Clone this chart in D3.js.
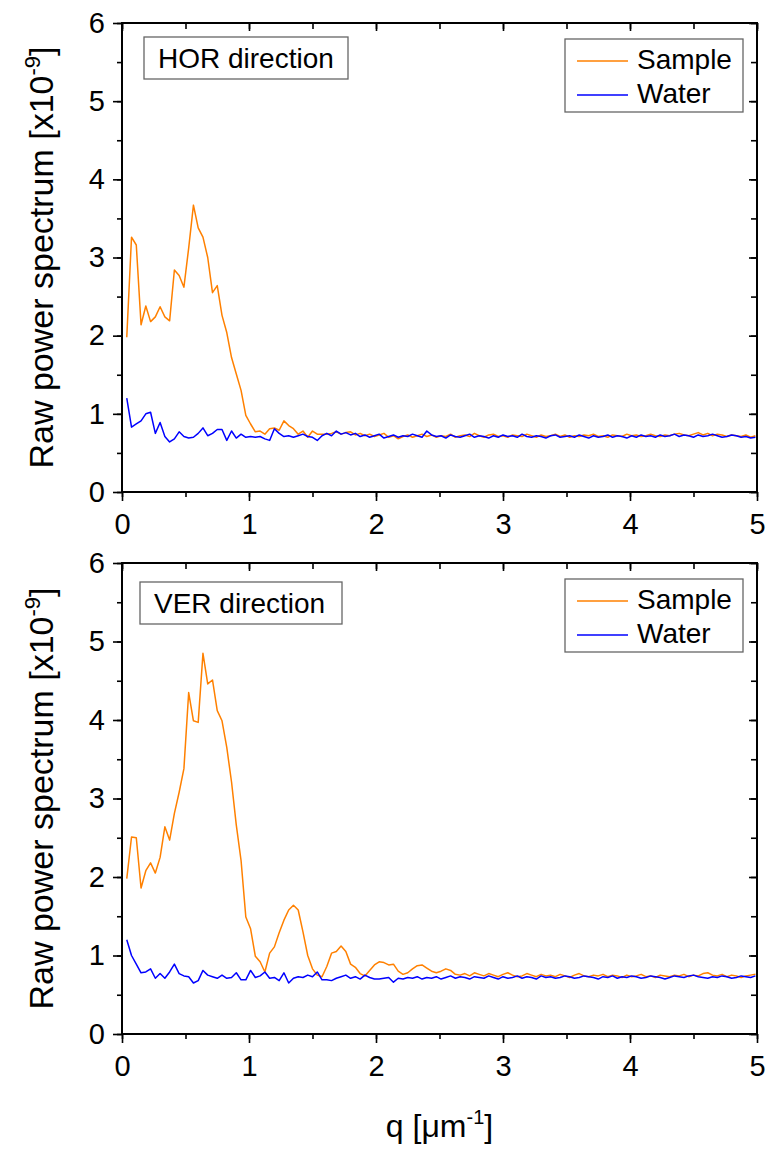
<html>
<head>
<meta charset="utf-8">
<script src="https://d3js.org/d3.v7.min.js"></script>
<style>
  body { margin: 0; background: #fff; }
  text { font-family: "Liberation Sans", Arial, sans-serif; fill: #000; }
</style>
</head>
<body>
<svg class="chart" width="780" height="1150"></svg>
<script>

// sampling of the spectra (q in 1/um)
var qStep = 0.0375;
var q = d3.range(1, 134).map(function(i) { return +(i * qStep).toFixed(4); });

var seriesNames = ["Sample", "Water"];
var xTicks = [0, 1, 2, 3, 4, 5];
var yTicks = [0, 1, 2, 3, 4, 5, 6];

// HOR direction, raw power spectrum [x10^-9]
var horSample = [
  1.98,3.26,3.16,2.14,2.38,2.18,2.24,2.37,2.24,2.19,
  2.84,2.77,2.62,3.12,3.67,3.38,3.26,3.00,2.55,2.64,
  2.26,2.04,1.72,1.51,1.30,0.98,0.87,0.77,0.78,0.74,
  0.81,0.82,0.79,0.91,0.85,0.81,0.74,0.78,0.70,0.78,
  0.74,0.74,0.74,0.75,0.77,0.74,
  0.76,0.77,0.73,0.75,0.72,0.74,0.71,0.73,0.75,0.70,
  0.72,0.68,0.71,0.73,0.70,0.72,0.74,0.71,0.73,0.70,
  0.72,0.71,0.74,0.70,0.72,0.73,0.71,0.75,0.72,0.70,
  0.73,0.74,0.71,0.72,0.70,0.73,0.72,0.71,0.74,0.72,
  0.70,0.73,0.71,0.72,0.74,0.71,0.73,0.70,0.72,0.71,
  0.73,0.72,0.74,0.71,0.72,0.70,0.73,0.72,0.71,0.74,
  0.72,0.73,0.71,0.72,0.74,0.72,0.71,0.73,0.72,0.74,
  0.75,0.73,0.72,0.74,0.76,0.73,0.75,0.72,0.74,0.73,
  0.71,0.73,0.72,0.71,0.73,0.70,0.72
];
var horWater = [
  1.20,0.83,0.87,0.91,1.00,1.02,0.75,0.89,0.71,0.64,
  0.68,0.77,0.71,0.69,0.70,0.75,0.82,0.72,0.75,0.80,
  0.80,0.66,0.78,0.69,0.74,0.70,0.71,0.70,0.71,0.68,
  0.66,0.81,0.75,0.71,0.72,0.70,0.72,0.74,0.71,0.70,
  0.66,0.72,0.75,0.72,0.78,0.74,
  0.76,0.73,0.75,0.71,0.73,0.70,0.72,0.74,0.69,0.71,
  0.73,0.70,0.72,0.71,0.74,0.72,0.70,0.78,0.73,0.71,
  0.72,0.69,0.73,0.71,0.70,0.72,0.74,0.70,0.72,0.71,
  0.69,0.72,0.70,0.73,0.71,0.72,0.70,0.74,0.71,0.70,
  0.72,0.71,0.69,0.72,0.73,0.70,0.71,0.72,0.70,0.73,
  0.71,0.69,0.72,0.70,0.71,0.73,0.70,0.72,0.71,0.69,
  0.72,0.70,0.73,0.71,0.72,0.70,0.73,0.71,0.72,0.74,
  0.71,0.73,0.72,0.70,0.73,0.71,0.72,0.74,0.72,0.70,
  0.71,0.73,0.72,0.70,0.71,0.69,0.70
];

// VER direction
var verSample = [
  1.98,2.51,2.50,1.86,2.08,2.18,2.05,2.25,2.64,2.47,
  2.81,3.08,3.38,4.35,3.99,3.97,4.85,4.46,4.51,4.12,
  3.99,3.65,3.21,2.66,2.21,1.49,1.34,0.99,0.92,0.79,
  1.03,1.11,1.29,1.45,1.58,1.64,1.58,1.30,1.00,0.83,
  0.75,0.73,0.86,1.03,1.05,1.12,1.05,0.89,0.85,0.77,
  0.74,0.81,0.88,0.92,
  0.91,0.88,0.89,0.80,0.76,0.78,0.83,0.87,0.88,0.84,
  0.80,0.78,0.80,0.83,0.81,0.76,0.75,0.77,0.74,0.78,
  0.76,0.74,0.77,0.75,0.73,0.76,0.78,0.75,0.73,0.74,
  0.77,0.75,0.73,0.76,0.74,0.75,0.73,0.76,0.74,0.72,
  0.75,0.77,0.74,0.73,0.75,0.74,0.76,0.73,0.75,0.74,
  0.72,0.75,0.73,0.74,0.76,0.73,0.74,0.72,0.75,0.74,
  0.73,0.75,0.74,0.76,0.73,0.75,0.74,0.77,0.78,0.75,
  0.74,0.76,0.73,0.75,0.74,0.72,0.74,0.75,0.76
];
var verWater = [
  1.20,1.00,0.89,0.78,0.79,0.83,0.71,0.77,0.71,0.79,
  0.89,0.77,0.74,0.73,0.65,0.68,0.81,0.75,0.73,0.71,
  0.75,0.71,0.72,0.78,0.69,0.69,0.81,0.72,0.74,0.79,
  0.71,0.72,0.68,0.78,0.65,0.71,0.73,0.72,0.75,0.73,
  0.79,0.69,0.69,0.68,0.71,0.73,0.75,0.71,0.73,0.70,
  0.75,0.72,0.70,0.70,
  0.71,0.72,0.66,0.71,0.70,0.72,0.71,0.73,0.70,0.72,
  0.71,0.73,0.70,0.72,0.74,0.71,0.73,0.72,0.70,0.73,
  0.72,0.71,0.74,0.72,0.70,0.73,0.71,0.72,0.74,0.71,
  0.73,0.72,0.70,0.74,0.72,0.73,0.71,0.72,0.74,0.73,
  0.71,0.72,0.74,0.73,0.72,0.70,0.73,0.72,0.74,0.71,
  0.73,0.72,0.74,0.73,0.71,0.72,0.74,0.73,0.72,0.70,
  0.72,0.74,0.73,0.72,0.74,0.75,0.73,0.72,0.71,0.73,
  0.72,0.74,0.73,0.71,0.72,0.74,0.73,0.72,0.74
];

var colors = { Sample: "#ff8000", Water: "#0000ff" };

// plot box geometry
var left = 122, right = 757;
var panels = [
  { label: "HOR direction", sample: horSample, water: horWater, top: 23, bottom: 492, boxX: 144, boxY: 37, boxW: 204 },
  { label: "VER direction", sample: verSample, water: verWater, top: 563, bottom: 1034, boxX: 140, boxY: 582, boxW: 202 }
];

var x = d3.scaleLinear().domain([0, 5]).range([left, right]);
var svg = d3.select(".chart");

panels.forEach(function(p) {
  var y = d3.scaleLinear().domain([0, 6]).range([p.bottom, p.top]);
  var g = svg.append("g");

  // minor ticks (every 0.5)
  var xMinor = d3.range(0, 5.01, 0.5), yMinor = d3.range(0, 6.01, 0.5);
  g.append("g").attr("transform", "translate(0," + p.bottom + ")")
    .call(d3.axisBottom(x).tickValues(xMinor).tickFormat("").tickSize(5).tickSizeOuter(0));
  g.append("g").attr("transform", "translate(" + left + ",0)")
    .call(d3.axisLeft(y).tickValues(yMinor).tickFormat("").tickSize(5).tickSizeOuter(0));
  g.append("g").attr("transform", "translate(0," + p.top + ")")
    .call(d3.axisTop(x).tickValues(xMinor).tickFormat("").tickSize(-6).tickSizeOuter(0));
  g.append("g").attr("transform", "translate(" + right + ",0)")
    .call(d3.axisRight(y).tickValues(yMinor).tickFormat("").tickSize(-6).tickSizeOuter(0));

  // major ticks with labels
  g.append("g").attr("class", "xaxis").attr("transform", "translate(0," + p.bottom + ")")
    .call(d3.axisBottom(x).tickValues(xTicks).tickFormat(d3.format("d")).tickSize(9).tickPadding(12).tickSizeOuter(0));
  g.append("g").attr("class", "yaxis").attr("transform", "translate(" + left + ",0)")
    .call(d3.axisLeft(y).tickValues(yTicks).tickFormat(d3.format("d")).tickSize(9).tickPadding(8).tickSizeOuter(0));
  g.append("g").attr("transform", "translate(0," + p.top + ")")
    .call(d3.axisTop(x).tickValues(xTicks).tickFormat("").tickSize(-8).tickSizeOuter(0));
  g.append("g").attr("transform", "translate(" + right + ",0)")
    .call(d3.axisRight(y).tickValues(yTicks).tickFormat("").tickSize(-8).tickSizeOuter(0));

  g.selectAll(".domain").remove();
  g.selectAll(".tick line").attr("stroke", "#000").attr("stroke-width", 1.6);
  g.selectAll(".xaxis text, .yaxis text")
    .style("font-family", "'Liberation Sans', Arial, sans-serif")
    .style("font-size", "29px")
    .attr("fill", "#000");

  // the lines
  [["Sample", p.sample], ["Water", p.water]].forEach(function(s) {
    g.append("path")
      .datum(s[1])
      .attr("fill", "none")
      .attr("stroke", colors[s[0]])
      .attr("stroke-width", 1.5)
      .attr("stroke-linejoin", "round")
      .attr("d", d3.line()
        .x(function(d, i) { return x(q[i]); })
        .y(function(d) { return y(d); }));
  });

  // frame
  g.append("rect")
    .attr("x", left).attr("y", p.top)
    .attr("width", right - left).attr("height", p.bottom - p.top)
    .attr("fill", "none").attr("stroke", "#000").attr("stroke-width", 2);

  // direction label box
  g.append("rect")
    .attr("x", p.boxX).attr("y", p.boxY)
    .attr("width", p.boxW).attr("height", 42)
    .attr("fill", "#fff").attr("stroke", "#666").attr("stroke-width", 1.3);
  g.append("text")
    .attr("x", p.boxX + 14).attr("y", p.boxY + 31)
    .style("font-size", "28px")
    .text(p.label);

  // legend
  var ly = p.top + 16;
  g.append("rect")
    .attr("x", 565).attr("y", ly)
    .attr("width", 178).attr("height", 73)
    .attr("fill", "#fff").attr("stroke", "#666").attr("stroke-width", 1.3);
  seriesNames.forEach(function(name, i) {
    g.append("line")
      .attr("x1", 577).attr("x2", 628)
      .attr("y1", ly + 22 + i * 34).attr("y2", ly + 22 + i * 34)
      .attr("stroke", colors[name]).attr("stroke-width", 1.5);
    g.append("text")
      .attr("x", 637).attr("y", ly + 30 + i * 34)
      .style("font-size", "28px")
      .text(name);
  });

  // y axis title
  var yt = g.append("text")
    .attr("transform", "translate(53," + ((p.top + p.bottom) / 2) + ") rotate(-90)")
    .attr("text-anchor", "middle")
    .style("font-size", "34px");
  yt.append("tspan").text("Raw power spectrum [x10");
  yt.append("tspan").attr("dy", -13).style("font-size", "22px").text("-9");
  yt.append("tspan").attr("dy", 13).text("]");
});

// x axis title
var xt = svg.append("text")
  .attr("x", (left + right) / 2).attr("y", 1137)
  .attr("text-anchor", "middle")
  .style("font-size", "32px");
xt.append("tspan").text("q [\u03bcm");
xt.append("tspan").attr("dy", -13).style("font-size", "20px").text("-1");
xt.append("tspan").attr("dy", 13).text("]");

</script>
</body>
</html>
